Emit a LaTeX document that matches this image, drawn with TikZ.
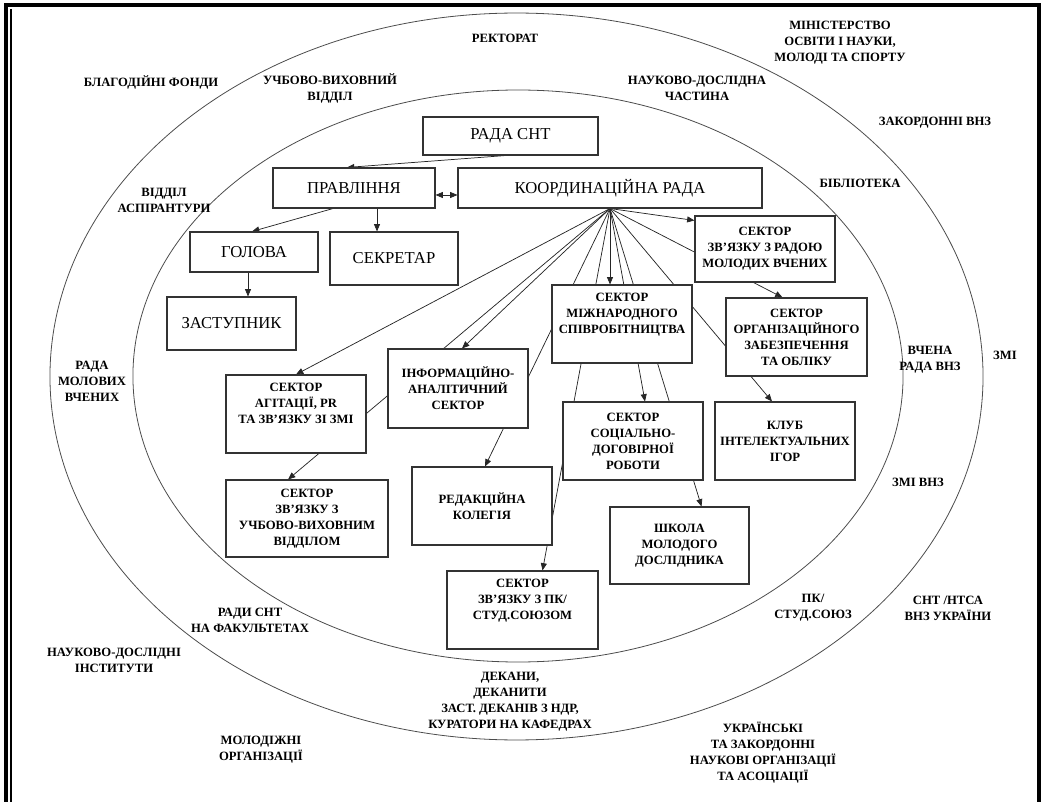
\documentclass[tikz,border=0pt]{standalone}
\usepackage{fontspec}
\setmainfont{Liberation Serif}
\usetikzlibrary{arrows.meta,calc,backgrounds}

\tikzset{
  box/.style={draw=black!80, line width=0.8pt, fill=white, inner sep=0pt, font=\fontsize{12.5}{15}\selectfont},
  sektor/.style={box, minimum width=105pt, minimum height=58.5pt, align=center, font=\bfseries\fontsize{9.5}{12}\selectfont},
  lbl/.style={align=center, font=\bfseries\fontsize{9.5}{12}\selectfont},
  ring/.style={draw=black!70, line width=0.6pt},
  con/.style={draw=black!85, line width=0.55pt, ->},
}

\begin{document}
\begin{tikzpicture}[x=0.75pt,y=-0.75pt,>={Triangle[length=5.5pt,width=4.5pt]}]
\useasboundingbox (0,0) rectangle (1043,802);

\draw[line width=2.4pt] (6,802) -- (6,5) -- (1039,5) -- (1039,802);
\draw[line width=0.8pt] (11,9) -- (11,802);

\draw[ring] (516.5,376.5) ellipse [x radius=349.9pt, y radius=272.6pt];
\draw[ring] (518,376) ellipse [x radius=288.8pt, y radius=214.5pt];

\node[lbl] (rektorat) at (505,38) {РЕКТОРАТ};
\node[lbl] (ministr) at (840,43) {МІНІСТЕРСТВО\\ОСВІТИ І НАУКИ,\\МОЛОДІ ТА СПОРТУ};
\node[lbl] (fondy) at (151,82) {БЛАГОДІЙНІ ФОНДИ};
\node[lbl] (uvv) at (330,88) {УЧБОВО-ВИХОВНИЙ\\ВІДДІЛ};
\node[lbl] (ndch) at (697,88) {НАУКОВО-ДОСЛІДНА\\ЧАСТИНА};
\node[lbl] (zakord) at (935,123) {ЗАКОРДОННІ ВНЗ};
\node[lbl] (bibl) at (860,183) {БІБЛІОТЕКА};
\node[lbl] (aspir) at (164,200) {ВІДДІЛ\\АСПІРАНТУРИ};
\node[lbl] (rmv) at (92,381) {РАДА\\МОЛОВИХ\\ВЧЕНИХ};
\node[lbl] (vchena) at (930,360) {ВЧЕНА\\РАДА ВНЗ};
\node[lbl] (zmi) at (1005,355) {ЗМІ};
\node[lbl] (zmivnz) at (918,482) {ЗМІ ВНЗ};
\node[lbl] (radysnt) at (250,620) {РАДИ СНТ\\НА ФАКУЛЬТЕТАХ};
\node[lbl] (ndi) at (114,660) {НАУКОВО-ДОСЛІДНІ\\ІНСТИТУТИ};
\node[lbl] (molod) at (261,750) {МОЛОДІЖНІ\\ОРГАНІЗАЦІЇ};
\node[lbl] (dekany) at (510,702) {ДЕКАНИ,\\ДЕКАНИТИ\\ЗАСТ. ДЕКАНІВ З НДР,\\КУРАТОРИ НА КАФЕДРАХ};
\node[lbl] (pk) at (813,608) {ПК/\\СТУД.СОЮЗ};
\node[lbl] (snt) at (948,608) {СНТ /НТСА\\ВНЗ УКРАЇНИ};
\node[lbl] (ukr) at (763,753) {УКРАЇНСЬКІ\\ТА ЗАКОРДОННІ\\НАУКОВІ ОРГАНІЗАЦІЇ\\ТА АСОЦІАЦІЇ};

\node[box, minimum width=131.25pt, minimum height=28.5pt] (rada) at (510.5,136) {РАДА СНТ};
\node[box, minimum width=121.5pt, minimum height=30pt] (prav) at (354,188) {ПРАВЛІННЯ};
\node[box, minimum width=228pt, minimum height=30pt] (koord) at (610,188) {КООРДИНАЦІЙНА РАДА};
\node[box, minimum width=96pt, minimum height=30pt] (holova) at (254,252) {ГОЛОВА};
\node[box, minimum width=96pt, minimum height=39.75pt] (sekr) at (394,258.5) {СЕКРЕТАР};
\node[box, minimum width=96.75pt, minimum height=39.75pt] (zast) at (231.5,323.5) {ЗАСТУПНИК};

\node[sektor] (agit) at (296,414) {СЕКТОР\\АГІТАЦІЇ, PR\\ТА ЗВ’ЯЗКУ ЗІ ЗМІ\\\strut};
\node[sektor, minimum width=121.5pt, minimum height=57.75pt] (udv) at (307,518.5) {СЕКТОР\\ЗВ’ЯЗКУ З\\УЧБОВО-ВИХОВНИМ\\ВІДДІЛОМ};
\node[sektor, minimum height=59.25pt] (info) at (458,388.5) {ІНФОРМАЦІЙНО-\\АНАЛІТИЧНИЙ\\СЕКТОР};
\node[sektor] (mizh) at (622,324) {СЕКТОР\\МІЖНАРОДНОГО\\СПІВРОБІТНИЦТВА\\\strut};
\node[sektor] (red) at (482,506) {РЕДАКЦІЙНА\\КОЛЕГІЯ};
\node[sektor] (soc) at (633,441) {СЕКТОР\\СОЦІАЛЬНО-\\ДОГОВІРНОЇ\\РОБОТИ};
\node[sektor, minimum width=104.25pt, minimum height=57.75pt] (shk) at (679.5,545.5) {ШКОЛА\\МОЛОДОГО\\ДОСЛІДНИКА};
\node[sektor, minimum width=113.25pt] (stud) at (522.5,610) {СЕКТОР\\ЗВ’ЯЗКУ З ПК/\\СТУД.СОЮЗОМ\\\strut};
\node[sektor, minimum height=49.5pt] (rad) at (765,249) {СЕКТОР\\ЗВ’ЯЗКУ З РАДОЮ\\МОЛОДИХ ВЧЕНИХ};
\node[sektor, minimum width=105.75pt] (org) at (796.5,337) {СЕКТОР\\ОРГАНІЗАЦІЙНОГО\\ЗАБЕЗПЕЧЕННЯ\\ТА ОБЛІКУ};
\node[sektor] (klub) at (785,441) {КЛУБ\\ІНТЕЛЕКТУАЛЬНИХ\\ІГОР};

\begin{scope}[on background layer]
\draw[con] ($(rada.south)+(-5,0)$) -- ($(prav.north)+(-7,0)$);
\draw[con, <->] ($(prav.east)+(0,7)$) -- ($(koord.west)+(0,7)$);
\draw[con] ($(prav.south)+(-21,0)$) -- ($(holova.north)+(-2,0)$);
\draw[con] ($(prav.south)+(23,0)$) -- ($(sekr.north)+(-17,0)$);
\draw[con] ($(holova.south)+(-6,0)$) -- ($(zast.north)+(16.5,0)$);
\draw[con] (koord.south) -- (agit.north);
\draw[con] (koord.south) -- ($(udv.north)+(-19,0)$);
\draw[con] (koord.south) -- ($(info.north)+(4,0)$);
\draw[con] (koord.south) -- ($(red.north)+(3,0)$);
\draw[con] (koord.south) -- ($(stud.north)+(20,0)$);
\draw[con] (koord.south) -- ($(mizh.north)+(-12,0)$);
\draw[con] (koord.south) -- ($(soc.north)+(12,0)$);
\draw[con] (koord.south) -- ($(shk.north)+(22,0)$);
\draw[con] (koord.south) -- ($(klub.north)+(-13,0)$);
\draw[con] (koord.south) -- ($(rad.north west)+(0,5)$);
\draw[con] (koord.south) -- ($(org.north)+(-14,0)$);
\end{scope}
\end{tikzpicture}
\end{document}
